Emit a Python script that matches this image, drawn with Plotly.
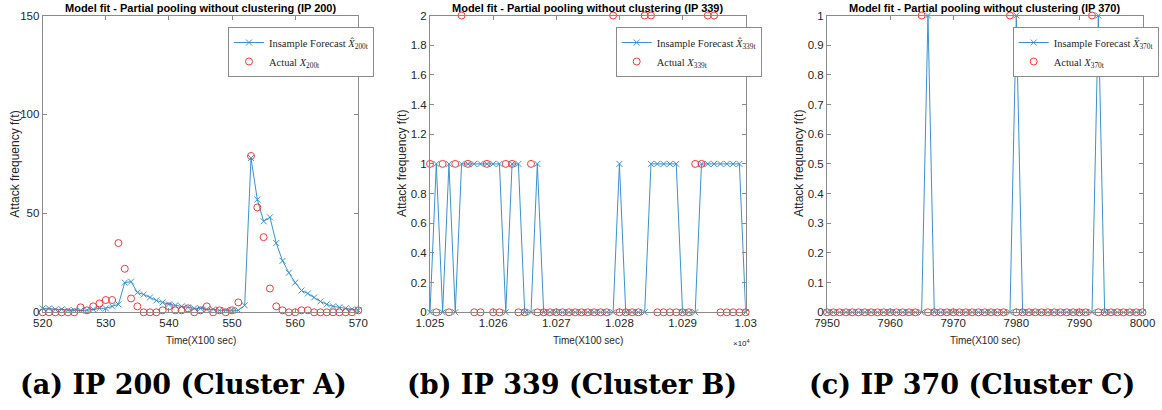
import plotly.graph_objects as go

# ---------------- data ----------------
t_a = list(range(520, 571))
forecast_a = [2, 2, 1.5, 1.5, 1, 1, 1, 1, 1.5, 2, 2, 3, 4, 15, 15.5, 10, 9, 7.5, 6, 5,
              4, 3.5, 3, 2.5, 2, 2, 1.5, 1.5, 1, 1, 1, 1, 3.5, 78, 57, 46, 48, 35, 26, 20,
              15, 11, 9.5, 7.5, 5.5, 4, 3, 2.5, 2, 1.5, 1]
actual_a = [0, 0, 0, 0, 0, 0, 2.5, 1, 3, 4.5, 6.2, 6.2, 35, 22, 7, 3, 0, 0, 0, 1,
            3, 1, 1, 2, 0, 1, 3, 0, 1, 0, 1, 5, None, 79, 53, 38, 12, 3, 1, 0,
            0, 1, 1, 0, 0, 0, 0, 0, 0, 0, 1]

t_b = list(range(10250, 10301))
forecast_b = [0, 1, 0, 1, 0, 1, 1, 1, 1, 1, 1, 1, 0, 1, 1, 0, 0, 1, 0, 0,
              0, 0, 0, 0, 0, 0, 0, 0, 0, 0, 1, 0, 0, 0, 0, 1, 1, 1, 1, 1,
              0, 0, 0, 1, 1, 1, 1, 1, 1, 1, 0]
actual_b = [1, 0, 1, 0, 1, 2, 1, 0, 0, 1, 0, 0, 1, 1, 0, 0, 1, 0, 0, 0,
            0, 0, 0, 0, 0, 0, 0, 0, 0, 2, 0, 0, 0, 0, 2, 2, 0, 0, 0, 0,
            0, 0, 1, 1, 2, 2, 0, 0, 0, 0, 0]

t_c = list(range(7950, 8001))
forecast_c = [0, 0, 0, 0, 0, 0, 0, 0, 0, 0, 0, 0, 0, 0, 0, 0, 1, 0, 0, 0,
              0, 0, 0, 0, 0, 0, 0, 0, 0, 0, 1, 0, 0, 0, 0, 0, 0, 0, 0, 0,
              0, 0, 0, 1, 0, 0, 0, 0, 0, 0, 0]
actual_c = [0, 0, 0, 0, 0, 0, 0, 0, 0, 0, 0, 0, 0, 0, 0, 1, 0, 0, 0, 0,
            0, 0, 0, 0, 0, 0, 0, 0, 0, 1, 0, 0, 0, 0, 0, 0, 0, 0, 0, 0,
            0, 0, 1, 0, 0, 0, 0, 0, 0, 0, 0]

titles = ["Model fit - Partial pooling without clustering (IP 200)",
          "Model fit - Partial pooling without clustering (IP 339)",
          "Model fit - Partial pooling without clustering (IP 370)"]
captions = ["(a) IP 200 (Cluster A)", "(b) IP 339 (Cluster B)", "(c) IP 370 (Cluster C)"]
ip_ids = ["200", "339", "370"]

x_ticks_a = [520, 530, 540, 550, 560, 570]
x_ticks_b = [10250, 10260, 10270, 10280, 10290, 10300]
x_ticklabels_b = ["1.025", "1.026", "1.027", "1.028", "1.029", "1.03"]
x_ticks_c = [7950, 7960, 7970, 7980, 7990, 8000]
y_ticks_a = [0, 50, 100, 150]
y_ticks_b = [0, 0.2, 0.4, 0.6, 0.8, 1, 1.2, 1.4, 1.6, 1.8, 2]
y_ticks_c = [0, 0.1, 0.2, 0.3, 0.4, 0.5, 0.6, 0.7, 0.8, 0.9, 1]

# ---------------- style ----------------
W, H = 1162, 410
BLUE = "#3a92cc"
RED = "#f03a3a"
AX = "#8a8a8a"
TXT = "#262626"
SANS = "Liberation Sans, Arial, sans-serif"
SERIF = "Liberation Serif, Times New Roman, serif"


def px_x(v):
    return v / W


def px_y(v):
    return 1 - v / H


panels_px = [(42.7, 358.3), (430.0, 745.7), (827.0, 1142.5)]
top_px, bot_px = 15.5, 312.3
ydom = [px_y(bot_px), px_y(top_px)]

fig = go.Figure()

data = [(t_a, forecast_a, actual_a), (t_b, forecast_b, actual_b), (t_c, forecast_c, actual_c)]
for i, (t, f, a) in enumerate(data):
    sfx = "" if i == 0 else str(i + 1)
    lg = "legend" + sfx
    fig.add_trace(go.Scatter(
        x=t, y=f, mode="lines+markers", xaxis="x" + sfx, yaxis="y" + sfx,
        line=dict(color=BLUE, width=1),
        marker=dict(symbol="x-thin", size=6, line=dict(color=BLUE, width=1)),
        name="Insample Forecast <i>X\u0302</i><sub>%st</sub>" % ip_ids[i],
        legend=lg, cliponaxis=False))
    fig.add_trace(go.Scatter(
        x=t, y=a, mode="markers", xaxis="x" + sfx, yaxis="y" + sfx,
        marker=dict(symbol="circle-open", size=7, color=RED, line=dict(color=RED, width=1)),
        name="Actual <i>X</i><sub>%st</sub>" % ip_ids[i],
        legend=lg, cliponaxis=False))

axis_common = dict(showline=True, linecolor=AX, linewidth=1, mirror="ticks",
                   ticks="inside", ticklen=4, tickcolor=AX, tickwidth=1,
                   showgrid=False, zeroline=False, automargin=False,
                   tickfont=dict(family=SANS, size=11.5, color=TXT))

xranges = [(520, 570), (10250, 10300), (7950, 8000)]
xticks = [(x_ticks_a, None), (x_ticks_b, x_ticklabels_b), (x_ticks_c, None)]
yranges = [(0, 150), (0, 2), (0, 1)]
yticks = [y_ticks_a, y_ticks_b, y_ticks_c]
legend_x_px = [228, 615.7, 1012.7]

layout = dict(width=W, height=H, margin=dict(l=0, r=0, t=0, b=0, autoexpand=False),
              paper_bgcolor="white", plot_bgcolor="white", showlegend=True)
annotations = []
for i in range(3):
    sfx = "" if i == 0 else str(i + 1)
    x0, x1 = panels_px[i]
    xa = dict(axis_common, domain=[px_x(x0), px_x(x1)], range=list(xranges[i]),
              tickvals=xticks[i][0], anchor="y" + sfx)
    if xticks[i][1] is not None:
        xa["ticktext"] = xticks[i][1]
    ya = dict(axis_common, domain=ydom, range=list(yranges[i]), tickvals=yticks[i],
              anchor="x" + sfx)
    layout["xaxis" + sfx] = xa
    layout["yaxis" + sfx] = ya
    layout["legend" + sfx] = dict(
        x=px_x(legend_x_px[i]), y=px_y(27), xanchor="left", yanchor="top",
        bgcolor="white", bordercolor="#8a8a8a", borderwidth=1,
        font=dict(family=SERIF, size=10.5, color=TXT),
        itemwidth=30, tracegroupgap=0)
    cx = (x0 + x1) / 2
    annotations.append(dict(text="<b>" + titles[i] + "</b>", x=px_x(cx), y=px_y(8),
                            xref="paper", yref="paper", showarrow=False,
                            xanchor="center", yanchor="middle",
                            font=dict(family=SANS, size=11, color="black")))
    annotations.append(dict(text="Time(X100 sec)", x=px_x(cx), y=px_y(340),
                            xref="paper", yref="paper", showarrow=False,
                            xanchor="center", yanchor="middle",
                            font=dict(family=SANS, size=10, color=TXT)))
    annotations.append(dict(text="Attack frequency f(t)", x=px_x(x0 - 28), y=px_y(164),
                            xref="paper", yref="paper", showarrow=False, textangle=-90,
                            xanchor="center", yanchor="middle",
                            font=dict(family=SANS, size=12, color=TXT)))

cap_cx = [183, 572, 972]
for i in range(3):
    annotations.append(dict(text="<b>" + captions[i] + "</b>", x=px_x(cap_cx[i]), y=px_y(384),
                            xref="paper", yref="paper", showarrow=False,
                            xanchor="center", yanchor="middle",
                            font=dict(family="DejaVu Serif, serif", size=27, color="black")))

annotations.append(dict(text="\u00d710<sup>4</sup>", x=px_x(742), y=px_y(343),
                        xref="paper", yref="paper", showarrow=False,
                        xanchor="center", yanchor="middle",
                        font=dict(family=SANS, size=8, color=TXT)))
layout["annotations"] = annotations
fig.update_layout(**layout)

fig.write_html("out.html", config={"displayModeBar": False},
               post_script="document.body.style.margin='0px';")
